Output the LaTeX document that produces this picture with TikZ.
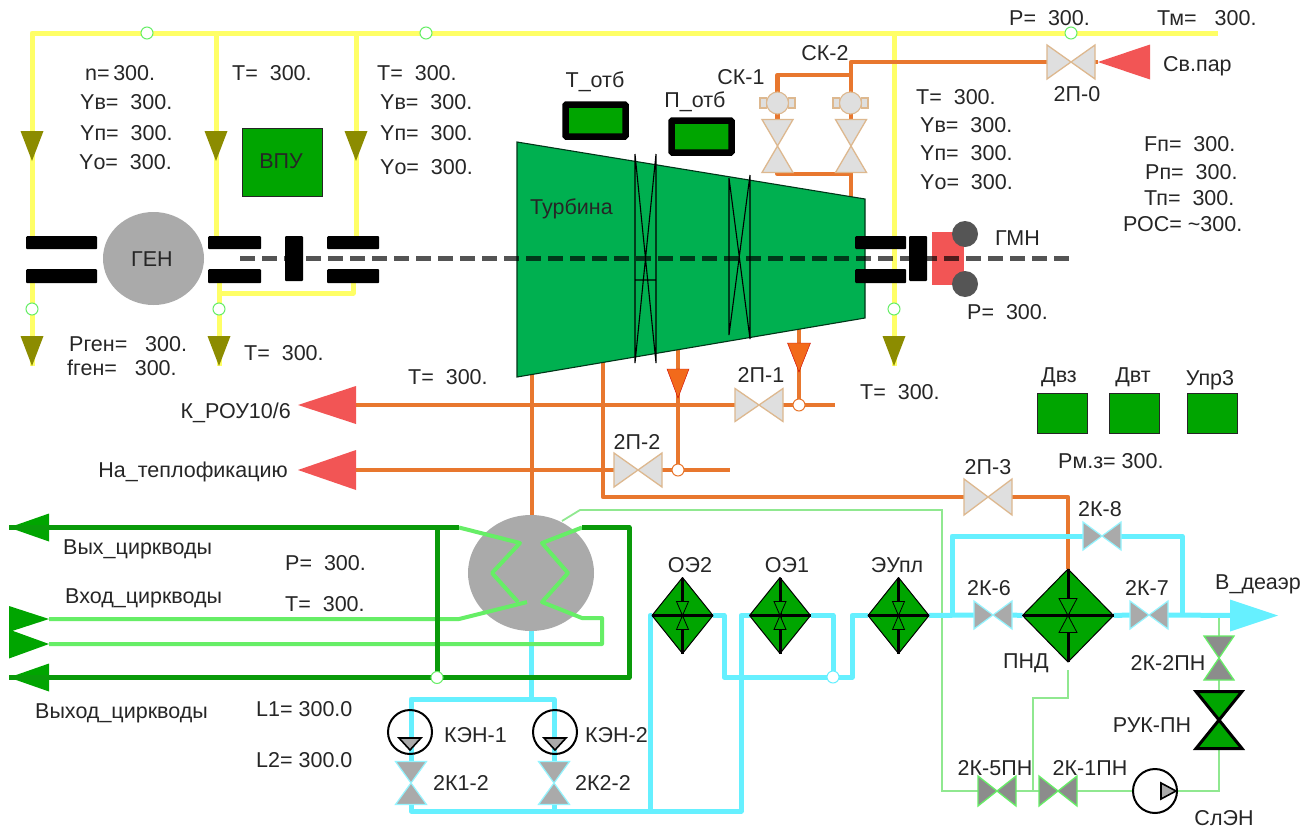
\documentclass[tikz,border=0pt]{standalone}
\usepackage{fontspec}
\setmainfont{Liberation Sans}
\usetikzlibrary{calc,shapes.geometric}
\pgfdeclarelayer{bg}
\pgfsetlayers{bg,main}
\definecolor{yel}{HTML}{FFFF66}
\definecolor{oil}{HTML}{8C8C00}
\definecolor{org}{HTML}{E8772E}
\definecolor{orgt}{HTML}{F26A1B}
\definecolor{red1}{HTML}{F25555}
\definecolor{cya}{HTML}{66F0FF}
\definecolor{dgr}{HTML}{0A9A0A}
\definecolor{fgr}{HTML}{00A500}
\definecolor{lgr}{HTML}{66EE66}
\definecolor{tgr}{HTML}{90E890}
\definecolor{tan1}{HTML}{DDB88F}
\definecolor{tur}{HTML}{00B050}
\definecolor{txt}{HTML}{262626}
\definecolor{gry}{HTML}{AAAAAA}
\definecolor{dgy}{HTML}{555555}
\tikzset{
 lbl/.style={font=\fontsize{21.5}{25}\selectfont,text=txt,inner sep=0pt},
 lw/.style={lbl,anchor=west},
 lc/.style={lbl,anchor=center},
 le/.style={lbl,anchor=east},
 yline/.style={draw=yel,line width=5pt,line join=round},
 oline/.style={draw=org,line width=4.5pt,line join=round},
 cline/.style={draw=cya,line width=5pt,line join=round},
 dline/.style={draw=dgr,line width=5pt,line join=round},
 lline/.style={draw=lgr,line width=4pt,line join=round},
 tline/.style={draw=tgr,line width=1.8pt,line join=miter},
 steamv/.style={fill=gray!25!white,draw=tan1,line width=1.3pt},
 cyanv/.style={fill=gry,draw=cya!70!white,line width=1.2pt},
 greenv/.style={fill=gray!90!white,draw=lgr,line width=1.3pt},
 bigv/.style={fill=fgr,draw=black,line width=3pt},
 junc/.style={circle,fill=white,draw=lgr,line width=1pt,minimum size=12pt,inner sep=0pt},
 juno/.style={junc,draw=org},
 junc2/.style={junc,draw=cya},
 oilt/.style={fill=oil},
 orgtri/.style={fill=orgt,draw=red!80!black,line width=.4pt},
 redt/.style={fill=red1},
 dgt/.style={fill=fgr},
 brg/.style={fill=black,rounded corners=1pt},
 gbox/.style={fill=fgr,draw=black!85,line width=1pt,inner sep=0pt},
 tbox/.style={fill=fgr,draw=black,line width=6.5pt,rounded corners=1pt,inner sep=0pt},
 pumpc/.style={circle,draw=black,line width=2pt,minimum size=44pt,inner sep=0pt},
 pumpt/.style={fill=gry,draw=black,line width=1.6pt},
}
\newcommand\valH[6]{\node[inner sep=0pt,outer sep=0pt,minimum width=#4pt,minimum height=#5pt] (#1) at (#2,#3) {};
 \draw[#6] (#1.north west)--(#1.south east)--(#1.north east)--(#1.south west)--cycle;}
\newcommand\valV[6]{\node[inner sep=0pt,outer sep=0pt,minimum width=#4pt,minimum height=#5pt] (#1) at (#2,#3) {};
 \draw[#6] (#1.north west)--(#1.north east)--(#1.south west)--(#1.south east)--cycle;}
\newcommand\diam[7]{\node[inner sep=0pt,outer sep=0pt,minimum width=2*#4pt,minimum height=2*#5pt] (#1) at (#2,#3) {};
 \draw[fill=fgr,draw=black,line width=1pt,line join=round] (#1.west)--(#1.north)--(#1.east)--(#1.south)--cycle;
 \draw[black,line width=3pt] (#1.north)--(#1.south);
 \draw[fill=fgr,draw=black,line width=.8pt] ($(#1.center)+(-#6,-#7)$)--($(#1.center)+(#6,-#7)$)--($(#1.center)+(-#6,#7)$)--($(#1.center)+(#6,#7)$)--cycle;
 \draw[black,line width=2.6pt] (#1.west)--(#1.east);}
\newcommand\triD[6]{\coordinate (#1) at (#2,#3); \path[#6] (#1)--++(-#5,-#4)--++(2*#5,0)--cycle;}
\newcommand\triL[6]{\coordinate (#1) at (#2,#3); \path[#6] (#1)--++(#4,-#5)--++(0,2*#5)--cycle;}
\newcommand\triR[6]{\coordinate (#1) at (#2,#3); \path[#6] (#1)--++(-#4,-#5)--++(0,2*#5)--cycle;}
\begin{document}
\begin{tikzpicture}[x=1pt,y=-1pt]
\useasboundingbox (0,0) rectangle (1310,830);
% ---- machines
\node[ellipse,fill=gry,minimum width=101pt,minimum height=93pt,inner sep=0pt] (gen) at (153.5,258.5) {};
\node[lc] (tgen) at (152,259) {ГЕН};
\coordinate (tu1) at (517,142); \coordinate (tu2) at (865,199); \coordinate (tu3) at (865,318); \coordinate (tu4) at (517,377);
\draw[fill=tur,draw=black!70!tur,line width=1.1pt] (tu1)--(tu2)--(tu3)--(tu4)--cycle;
\draw[black,line width=1.1pt] (635,154)--(635,363) (656,154)--(656,363) (635,154)--(656,363) (656,154)--(635,363) (635,280)--(656,280);
\draw[black,line width=1.1pt] (729,178)--(729,335) (750,175)--(750,339) (729,178)--(750,339) (750,175)--(729,335);
\node[lw] (tturb) at (530,209) {Турбина};
\node[ellipse,fill=gry,minimum width=126pt,minimum height=116pt,inner sep=0pt] (cond) at (531,573) {};
% ---- bearings
\foreach \n/\a/\b in {b1/26/97,b2/208/261,b3/327/379,b4/855/906}{
 \node[brg,inner sep=0pt,minimum height=13pt,minimum width={\b-\a},anchor=north west] (\n u) at (\a,236) {};
 \node[brg,inner sep=0pt,minimum height=14pt,minimum width={\b-\a},anchor=north west] (\n d) at (\a,269) {};
}
\node[brg,inner sep=0pt,minimum width=18pt,minimum height=45pt] (c1) at (294,258.5) {};
\node[brg,inner sep=0pt,minimum width=18pt,minimum height=45pt] (c2) at (918,258.5) {};
% ---- GMN
\node[fill=red1,inner sep=0pt,minimum width=32pt,minimum height=53pt] (gm) at (948,258.5) {};
\node[circle,fill=dgy,minimum size=26pt,inner sep=0pt] (gm1) at (965,234) {};
\node[circle,fill=dgy,minimum size=26pt,inner sep=0pt] (gm2) at (965,284) {};
% ---- boxes
\node[gbox,minimum width=80pt,minimum height=68pt] (vpu) at (282,162.5) {};
\node[lc] (tvpu) at (281,161) {ВПУ};
\node[tbox,minimum width=60pt,minimum height=32pt] (otb1) at (595.5,120.5) {};
\node[tbox,minimum width=60pt,minimum height=32pt] (otb2) at (701.5,136.5) {};
\node[gbox,minimum width=50pt,minimum height=40pt] (dvz) at (1062,413) {};
\node[gbox,minimum width=50pt,minimum height=40pt] (dvt) at (1134,413) {};
\node[gbox,minimum width=50pt,minimum height=40pt] (upr) at (1212,413) {};
% ---- steam valves
\valH{v20}{1071}{62}{48}{34}{steamv}
\valH{v21}{759}{405}{48}{33}{steamv}
\valH{v22}{638}{470}{48}{34}{steamv}
\valH{v23}{988}{497}{48}{36}{steamv}
\valV{vsk1}{777.5}{146}{31}{53}{steamv}
\valV{vsk2}{851}{146}{31}{53}{steamv}
\foreach \n/\x in {s1/777.5,s2/850.5}{
 \draw[fill=gray!25!white,draw=tan1,line width=1.1pt] (\x-17.5,98) rectangle (\x-11,108);
 \draw[fill=gray!25!white,draw=tan1,line width=1.1pt] (\x+11,98) rectangle (\x+17.5,108);
 \node[circle,fill=gray!25!white,draw=tan1,line width=1.1pt,minimum size=22pt,inner sep=0pt] (\n) at (\x,103) {};
}
% ---- water valves
\valH{k6}{993}{615}{38}{28}{cyanv}
\valH{k7}{1149}{615}{38}{28}{cyanv}
\valH{k8}{1102}{536}{38}{28}{cyanv}
\valV{k12}{411}{783}{31}{43}{cyanv}
\valV{k22}{554}{783}{31}{43}{cyanv}
\valV{k2pn}{1219}{658}{30}{44}{greenv}
\valH{k5pn}{997}{791}{38}{30}{greenv}
\valH{k1pn}{1058}{791}{38}{30}{greenv}
\valV{ruk}{1219}{720}{46}{57}{bigv}
% ---- exchangers
\diam{oe2}{682.5}{615.5}{30.5}{38}{6}{14}
\diam{oe1}{780}{615.5}{30.5}{38}{6}{14}
\diam{eu}{898.5}{615.5}{30.5}{38}{6}{14}
\diam{pnd}{1068}{615.5}{45.5}{46.5}{9}{17}
% ---- pumps
\node[pumpc] (p1) at (410,732) {};
\draw[pumpt] (399,738)--(421,738)--(410,750)--cycle;
\node[pumpc] (p2) at (555,732) {};
\draw[pumpt] (544,738)--(566,738)--(555,750)--cycle;
\node[pumpc] (p3) at (1155,791) {};
\draw[pumpt] (1161,783)--(1176,791)--(1161,799)--cycle;
% ---- triangles
\triD{ty1}{32}{161}{30}{11.5}{oilt}
\triD{ty2}{216}{161}{30}{11.5}{oilt}
\triD{ty3}{356}{161}{30}{11.5}{oilt}
\triD{ty4}{32}{366}{30}{11.5}{oilt}
\triD{ty5}{219}{366}{30}{11.5}{oilt}
\triD{ty6}{894}{366}{30}{11.5}{oilt}
\triD{to1}{678}{398}{29}{11}{orgtri}
\triD{to2}{799}{372}{29}{11.5}{orgtri}
\triL{tsv}{1098}{62}{52}{17.5}{redt}
\triL{tk}{298}{405}{58}{19}{redt}
\triL{tn}{298}{470}{58}{20}{redt}
\triL{ta1}{9}{527.5}{40}{14}{dgt}
\triL{ta2}{9}{677.5}{40}{14}{dgt}
\triR{ta3}{49}{619}{40}{13}{dgt}
\triR{ta4}{49}{644}{40}{14.5}{dgt}
\triR{tdea}{1278}{615.5}{48}{16}{fill=cya}
% ---- junctions
\node[junc] (j1) at (147,33) {};
\node[junc] (j2) at (426,33) {};
\node[junc] (j3) at (1071,33) {};
\node[junc] (j4) at (32,309) {};
\node[junc] (j5) at (219,309) {};
\node[junc] (j6) at (894,309) {};
\node[juno] (j7) at (678,470) {};
\node[juno] (j8) at (799,405) {};
\node[junc2] (j10) at (833,677) {};
% ---- named pipe ends
\coordinate (yl) at (32,33); \coordinate (ye) at (1218,33);
\coordinate (y2) at (216,33); \coordinate (y3) at (356,33); \coordinate (y4) at (894,33);
\coordinate (ob) at (532,372); \coordinate (oc) at (603,360);
\coordinate (oe) at (835,405); \coordinate (of) at (730,470);
\coordinate (ot1) at (678,350); \coordinate (ot2) at (799,326);
% ---- pipes, beneath everything
\begin{pgfonlayer}{bg}
 \fill[white] (0,0) rectangle (1310,830);
 \draw[yline] (ty1|-b1u.north) -- (yl) -- (ye);
 \draw[yline] (y2) -- (y2|-b2u.north);
 \draw[yline] (y3) -- (y3|-b3u.north);
 \draw[yline] (y4) -- (ty6);
 \draw[yline] (ty4|-b1d.south) -- (ty4);
 \draw[yline] (ty5|-b2d.south) -- (ty5);
 \draw[yline] (219,293) -- (353,293) -- (353,282);
 \draw[oline] (tsv) -- (v20.east);
 \draw[oline] (v20.west) -- (851,62) -- (vsk2.north);
 \draw[oline] (851,75) -- (777.5,75) -- (vsk1.north);
 \draw[oline] (vsk1.south) -- (777.5,174) -- (851,174) -- (851,198);
 \draw[oline] (vsk2.south) -- (851,174);
 \draw[oline] (356,405) -- (v21.west);
 \draw[oline] (v21.east) -- (oe);
 \draw[oline] (356,470) -- (v22.west);
 \draw[oline] (v22.east) -- (of);
 \draw[oline] (ob) -- (532,520);
 \draw[oline] (oc) -- (603,497) -- (v23.west);
 \draw[oline] (v23.east) -- (1068,497) -- (pnd.north);
 \draw[oline] (ot1) -- (j7);
 \draw[oline] (ot2) -- (j8);
 \draw[tline] (562,521) -- (580,510) -- (942,510) -- (942,791) -- (k5pn.west);
 \draw[tline] (k5pn.east) -- (k1pn.west);
 \draw[tline] (k1pn.east) -- (p3.west);
 \draw[tline] (p3.east) -- (1219,791) -- (ruk.south);
 \draw[tline] (ruk.north) -- (k2pn.south);
 \draw[tline] (k2pn.north) -- (1219,615.5);
 \draw[tline] (1068,670) -- (1068,698) -- (1033,698) -- (1033,791);
 \draw[cline] (cond.south) -- (531,699);
 \draw[cline] (k12.north) -- (411,699) -- (554,699) -- (k22.north);
 \draw[cline] (k12.south) -- (411,811) -- (741,811) -- (741,615.5) -- (oe1.west);
 \draw[cline] (k22.south) -- (554,811);
 \draw[cline] (650,811) -- (650,615.5) -- (oe2.west);
 \draw[cline] (oe2.east) -- (724,615.5) -- (724,677) -- (852,677) -- (852,615.5) -- (eu.west);
 \draw[cline] (oe1.east) -- (833,615.5) -- (j10);
 \draw[cline] (eu.east) -- (k6.west);
 \draw[cline] (k6.east) -- (pnd.west);
 \draw[cline] (pnd.east) -- (k7.west);
 \draw[cline] (k7.east) -- (1235,615.5);
 \draw[cline] (952,615.5) -- (952,536) -- (k8.west);
 \draw[cline] (k8.east) -- (1182,536) -- (1182,615.5);
\end{pgfonlayer}
% ---- circulating water
\draw[lline] (ta3) -- (459,619) -- (527,602);
\draw[lline] (459,527.5) -- (520,543) -- (492,573) -- (518,602);
\draw[lline] (ta4) -- (602,644) -- (602,618) -- (582,618) -- (542,602) -- (568,573) -- (542,543) -- (582,527.5);
\draw[dline] (ta1) -- (459,527.5);
\draw[dline] (582,527.5) -- (629,527.5) -- (629,677.5) -- (ta2);
\draw[dline] (437,527.5) -- (437,677);
\node[junc] (j9) at (437,677.5) {};
% ---- shaft
\coordinate (sh1) at (240,258.5); \coordinate (sh2) at (1072,258.5);
\draw[black,opacity=.67,line width=4.5pt,dash pattern=on 15pt off 7pt] (sh1) -- (sh2);
% ---- labels
\node[lw] (a1) at (85,73) {n=\,300.};
\node[lw] (a2) at (80,102) {Yв=\ \ 300.};
\node[lw] (a3) at (80,133) {Yп=\ \ 300.};
\node[lw] (a4) at (79,162) {Yо=\ \ 300.};
\node[lw] (a5) at (232,73) {T=\ \ 300.};
\node[lw] (a6) at (377,73) {T=\ \ 300.};
\node[lw] (a7) at (380,102) {Yв=\ \ 300.};
\node[lw] (a8) at (380,133) {Yп=\ \ 300.};
\node[lw] (a9) at (380,167) {Yо=\ \ 300.};
\node[lw] (b1) at (69,344) {Рген=\ \ \ 300.};
\node[lw] (b2) at (67,368) {fген=\ \ \ 300.};
\node[lw] (b3) at (244,353) {T=\ \ 300.};
\node[lw] (b4) at (408,377) {T=\ \ 300.};
\node[lc] (b5) at (595,82) {Т\_отб};
\node[lc] (b6) at (695,102) {П\_отб};
\node[lc] (b7) at (741,77) {СК-1};
\node[lc] (b8) at (825,53) {СК-2};
\node[lw] (b9) at (916,97) {T=\ \ 300.};
\node[lw] (c1t) at (920,125) {Yв=\ \ 300.};
\node[lw] (c2t) at (920,153) {Yп=\ \ 300.};
\node[lw] (c3) at (920,182) {Yо=\ \ 300.};
\node[lw] (c4) at (1009,18) {P=\ \ 300.};
\node[lw] (c5) at (1157,18) {Тм=\ \ \ 300.};
\node[lw] (c6) at (1163,66) {Св.пар};
\node[lc] (c7) at (1077,94) {2П-0};
\node[lw] (c8) at (1144,144) {Fп=\ \ 300.};
\node[lw] (c9) at (1145,172) {Рп=\ \ 300.};
\node[lw] (d1) at (1144,198) {Тп=\ \ 300.};
\node[lw] (d2) at (1123,224) {РОС= \textasciitilde300.};
\node[lw] (d3) at (995,238) {ГМН};
\node[lw] (d4) at (967,312) {P=\ \ 300.};
\node[lc] (d5) at (761,375) {2П-1};
\node[lw] (d6) at (860,392) {T=\ \ 300.};
\node[le] (d7) at (291,413) {К\_РОУ10/6};
\node[le] (d8) at (288,472) {На\_теплофикацию};
\node[lc] (d9) at (637,442) {2П-2};
\node[lc] (e1) at (988,467) {2П-3};
\node[lc] (e2) at (1059,377) {Двз};
\node[lc] (e3) at (1133,377) {Двт};
\node[lc] (e4) at (1210,380) {Упр3};
\node[lw] (e5) at (1058,461) {Рм.з= 300.};
\node[lw] (e6) at (63,549) {Вых\_циркводы};
\node[lw] (e7) at (65,598) {Вход\_циркводы};
\node[lw] (e8) at (35,713) {Выход\_циркводы};
\node[lw] (e9) at (285,563) {P=\ \ 300.};
\node[lw] (f1) at (285,604) {T=\ \ 300.};
\node[lw] (f2) at (256,709) {L1= 300.0};
\node[lw] (f3) at (256,760) {L2= 300.0};
\node[lw] (f4) at (444,735) {КЭН-1};
\node[lw] (f5) at (585,735) {КЭН-2};
\node[lw] (f6) at (433,783) {2К1-2};
\node[lw] (f7) at (575,783) {2К2-2};
\node[lc] (f8) at (690,565) {ОЭ2};
\node[lc] (f9) at (787,565) {ОЭ1};
\node[lc] (g1) at (897,565) {ЭУпл};
\node[lc] (g2) at (1100,509) {2К-8};
\node[lc] (g3) at (989,588) {2К-6};
\node[lc] (g4) at (1147,588) {2К-7};
\node[lw] (g5) at (1215,584) {В\_деаэр};
\node[lc] (g6) at (1026,663) {ПНД};
\node[lc] (g7) at (1168,663) {2К-2ПН};
\node[lc] (g8) at (1152,725) {РУК-ПН};
\node[lc] (g9) at (995,768) {2К-5ПН};
\node[lc] (h1) at (1090,768) {2К-1ПН};
\node[lc] (h2) at (1224,818) {СлЭН};
\end{tikzpicture}
\end{document}
